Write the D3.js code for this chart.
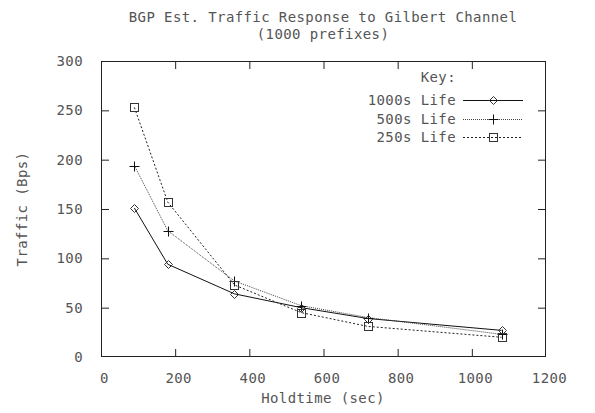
<!DOCTYPE html>
<html>
<head>
<meta charset="utf-8">
<script src="https://cdn.jsdelivr.net/npm/d3@7"></script>
<style>
  body { margin: 0; background: #fff; }
  svg text { font-family: "DejaVu Sans Mono", monospace; font-size: 14px; letter-spacing: 0.4px; fill: #555; }
</style>
</head>
<body>
<svg id="chart" width="595" height="413"></svg>
<script>
// values
const holdtimes = [90, 180, 360, 540, 720, 1080];
const life1000 = [151, 94, 64, 50, 39, 27];
const life500 = [194, 128, 77, 52, 40, 23];
const life250 = [253, 157, 73, 45, 31, 20];
const xTicks = [0, 200, 400, 600, 800, 1000, 1200];
const yTicks = [0, 50, 100, 150, 200, 250, 300];
const seriesNames = ["1000s Life", "500s Life", "250s Life"];

const svg = d3.select("#chart");
const plotL = 101, plotR = 546, plotT = 61, plotB = 357;

const x = d3.scaleLinear().domain([0, 1200]).range([plotL, plotR]);
const y = d3.scaleLinear().domain([0, 300]).range([plotB, plotT]);
const fmt = d3.format("d");

// axes, ticks point inwards and are mirrored
const gLeft = svg.append("g").attr("transform", `translate(${plotL},0)`)
  .call(d3.axisLeft(y).tickValues(yTicks).tickFormat(fmt).tickSizeInner(-8).tickSizeOuter(0).tickPadding(18));
const gRight = svg.append("g").attr("transform", `translate(${plotR},0)`)
  .call(d3.axisRight(y).tickValues(yTicks.slice(1, -1)).tickSizeInner(-8).tickSizeOuter(0).tickFormat(""));
const gBottom = svg.append("g").attr("transform", `translate(0,${plotB})`)
  .call(d3.axisBottom(x).tickValues(xTicks).tickFormat(fmt).tickSizeInner(-8).tickSizeOuter(0).tickPadding(16));
const gTop = svg.append("g").attr("transform", `translate(0,${plotT})`)
  .call(d3.axisTop(x).tickValues(xTicks.slice(1, -1)).tickSizeInner(-8).tickSizeOuter(0).tickFormat(""));

[gLeft, gRight, gBottom, gTop].forEach(g => {
  g.select(".domain").remove();
  g.selectAll("line").attr("stroke", "#222");
  g.selectAll("text").attr("font-family", null).attr("font-size", null).attr("fill", null);
});
gBottom.selectAll("text").attr("dx", 3);
gLeft.selectAll(".tick").filter(d => d === 0 || d === 300).select("line").remove();
gBottom.selectAll(".tick").filter(d => d === 0 || d === 1200).select("line").remove();

svg.append("rect")
  .attr("x", plotL + 0.5).attr("y", plotT + 0.5)
  .attr("width", plotR - plotL - 1).attr("height", plotB - plotT - 1)
  .attr("fill", "none").attr("stroke", "#222");

// titles
svg.append("text").attr("x", 323).attr("y", 22).attr("text-anchor", "middle")
  .text("BGP Est. Traffic Response to Gilbert Channel");
svg.append("text").attr("x", 323).attr("y", 39).attr("text-anchor", "middle")
  .text("(1000 prefixes)");
svg.append("text").attr("x", 323).attr("y", 403).attr("text-anchor", "middle")
  .text("Holdtime (sec)");
svg.append("text").attr("transform", "translate(27,209) rotate(-90)").attr("text-anchor", "middle")
  .text("Traffic (Bps)");

const styles = [
  { data: life1000, color: "#111", dash: null, marker: "diamond" },
  { data: life500, color: "#444", dash: "1,1", marker: "plus" },
  { data: life250, color: "#222", dash: "2,2", marker: "square" }
];

const line = d3.line().x(d => x(d[0])).y(d => y(d[1]));

function drawMarker(g, kind, cx, cy) {
  if (kind === "diamond") {
    g.append("path").attr("d", `M${cx},${cy - 4}L${cx + 4},${cy}L${cx},${cy + 4}L${cx - 4},${cy}Z`)
      .attr("fill", "none").attr("stroke", "#333");
  } else if (kind === "plus") {
    g.append("path").attr("d", `M${cx - 5},${cy}H${cx + 5}M${cx},${cy - 5}V${cy + 5}`)
      .attr("fill", "none").attr("stroke", "#111");
  } else {
    g.append("rect").attr("x", cx - 4).attr("y", cy - 4).attr("width", 8).attr("height", 8)
      .attr("fill", "none").attr("stroke", "#333");
  }
}

styles.forEach(s => {
  const pts = holdtimes.map((h, i) => [h, s.data[i]]);
  svg.append("path").datum(pts).attr("d", line)
    .attr("fill", "none").attr("stroke", s.color).attr("stroke-dasharray", s.dash);
  const g = svg.append("g");
  pts.forEach(p => drawMarker(g, s.marker, Math.round(x(p[0])) + 0.5, Math.round(y(p[1])) + 0.5));
});

// legend
svg.append("text").attr("x", 456).attr("y", 82).attr("text-anchor", "end").text("Key:");
styles.forEach((s, i) => {
  const ly = 100 + i * 18.5;
  svg.append("text").attr("x", 456).attr("y", ly + 5).attr("text-anchor", "end").text(seriesNames[i]);
  svg.append("path").attr("d", `M463,${Math.round(ly) + 0.5}H523`)
    .attr("fill", "none").attr("stroke", s.color).attr("stroke-dasharray", s.dash);
  drawMarker(svg, s.marker, 493.5, Math.round(ly) + 0.5);
});
</script>
</body>
</html>
